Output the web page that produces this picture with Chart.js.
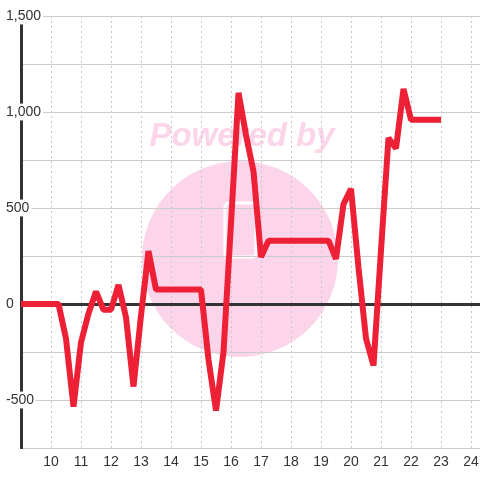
<!DOCTYPE html>
<html><head><meta charset="utf-8">
<script src="https://cdn.jsdelivr.net/npm/chart.js@4"></script>
<style>html,body{margin:0;padding:0;background:#fff}</style>
</head><body>
<canvas id="c" width="480" height="480"></canvas>
<script>
// hour of day (quarter-hour samples)
const hours = [9,9.25,9.5,9.75,10,10.25,10.5,10.75,11,11.25,11.5,11.75,12,12.25,12.5,12.75,13,13.25,13.5,13.75,14,14.25,14.5,14.75,15,15.25,15.5,15.75,16,16.25,16.5,16.75,17,17.25,17.5,17.75,18,18.25,18.5,18.75,19,19.25,19.5,19.75,20,20.25,20.5,20.75,21,21.25,21.5,21.75,22,22.25,22.5,22.75,23];
const values = [0,0,0,0,0,0,-180,-535,-200,-50,65,-30,-30,100,-70,-430,-60,275,75,75,75,75,75,75,75,-290,-555,-250,420,1100,880,690,245,330,330,330,330,330,330,330,330,330,235,520,600,190,-180,-320,280,865,810,1120,960,960,960,960,960];
const xTickLabels = [10,11,12,13,14,15,16,17,18,19,20,21,22,23,24];
const yTickLabels = [-500,0,500,1000,1500];

const FONT = '"Liberation Sans", Arial, sans-serif';

const watermark = {
  id: 'wm',
  beforeDraw(chart) {
    const c = chart.ctx;
    c.save();
    c.fillStyle = '#fff'; c.fillRect(0, 0, chart.width, chart.height);
    c.fillStyle = '#fcd5eb';
    c.beginPath(); c.arc(240, 259, 98, 0, Math.PI * 2); c.fill();
    c.font = 'italic bold 33px ' + FONT;
    c.textAlign = 'center'; c.textBaseline = 'alphabetic';
    c.fillText('Powered by', 242, 146);
    c.strokeStyle = '#fff'; c.lineWidth = 3;
    c.beginPath(); c.roundRect(225, 203, 31, 54, 4); c.stroke();
    c.restore();
  }
};

new Chart(document.getElementById('c'), {
  type: 'line',
  data: {
    datasets: [{
      data: hours.map((h, i) => ({x: h, y: values[i]})),
      borderColor: '#ee2036',
      borderWidth: 6,
      borderJoinStyle: 'bevel',
      pointRadius: 0,
      tension: 0,
      fill: false
    }]
  },
  options: {
    responsive: false,
    animation: false,
    layout: {padding: {top: 16, left: 5, right: 0, bottom: 0}},
    plugins: {legend: {display: false}, tooltip: {enabled: false}},
    scales: {
      x: {
        type: 'linear',
        min: 9, max: 24.3,
        grid: {color: '#c8c8c8', lineWidth: 1, drawTicks: false},
        border: {color: '#cccccc', width: 1, dash: [2, 3]},
        ticks: {
          stepSize: 1, includeBounds: false, padding: 6,
          color: '#333', font: {family: FONT, size: 14},
          maxRotation: 0, autoSkip: false,
          callback: v => xTickLabels.includes(v) ? String(v) : ''
        },
        afterFit: s => { s.height = 32; s.paddingLeft = 0; s.paddingRight = 0; }
      },
      y: {
        min: -750, max: 1500,
        grid: {
          drawTicks: false,
          color: ctx => ctx.tick && ctx.tick.value === 0 ? '#333333' : '#cccccc',
          lineWidth: ctx => ctx.tick && ctx.tick.value === 0 ? 3 : 1
        },
        border: {color: '#333333', width: 3},
        ticks: {
          stepSize: 250, mirror: true, padding: -15,
          crossAlign: 'near',
          color: '#333', font: {family: FONT, size: 14},
          showLabelBackdrop: ctx => yTickLabels.includes(ctx.tick.value),
          backdropColor: '#ffffff',
          backdropPadding: {left: 2, right: 2, top: 0, bottom: 0},
          callback: v => yTickLabels.includes(v) ? v.toLocaleString('en-US') : ''
        },
        afterFit: s => { s.width = 16; }
      }
    }
  },
  plugins: [watermark]
});
</script>
</body></html>
